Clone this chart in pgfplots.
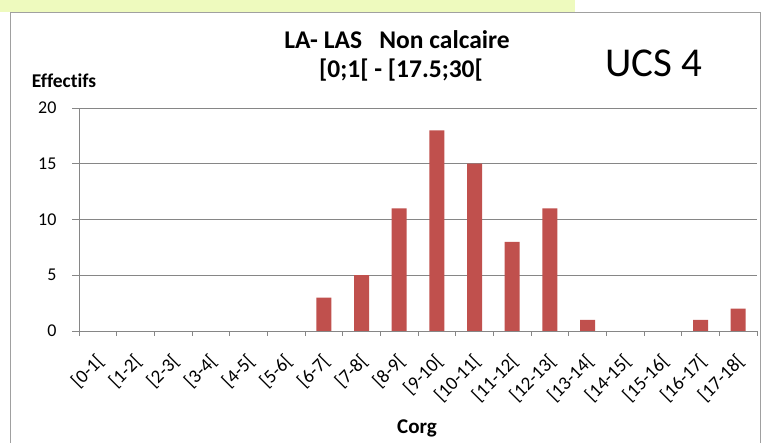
\documentclass[border=0pt]{standalone}
\usepackage{pgfplots}
\pgfplotsset{compat=1.18}
\usepackage{fontspec}
\setmainfont{Carlito}[Ligatures=NoCommon]
\definecolor{barred}{RGB}{192,80,77}
\definecolor{axgray}{RGB}{134,134,134}
\definecolor{framegray}{RGB}{160,160,160}
\definecolor{yel}{RGB}{238,250,190}
\begin{document}
\begin{tikzpicture}
\path[use as bounding box] (0pt,0pt) rectangle (767pt,443pt);
\fill[yel] (0pt,443pt) rectangle (575pt,431pt);
\draw[framegray, line width=0.8pt] (10.5pt,-2pt) -- (10.5pt,430.5pt) -- (760.5pt,430.5pt) -- (760.5pt,-2pt);
\begin{axis}[
  at={(79pt,112pt)}, anchor=south west,
  scale only axis, width=678pt, height=223pt,
  xmin=-0.5, xmax=17.5, ymin=0, ymax=20,
  axis lines*=left,
  axis line style={axgray, line width=0.8pt},
  ytick={0,5,10,15,20},
  ymajorgrids, grid style={axgray, line width=0.6pt},
  xtick={0,...,17},
  xticklabels={{[0-1[},{[1-2[},{[2-3[},{[3-4[},{[4-5[},{[5-6[},{[6-7[},{[7-8[},{[8-9[},{[9-10[},{[10-11[},{[11-12[},{[12-13[},{[13-14[},{[14-15[},{[15-16[},{[16-17[},{[17-18[}},
  minor xtick={-0.5,0.5,...,17.5},
  major x tick style={draw=none},
  minor x tick style={axgray, line width=0.8pt},
  major y tick style={axgray, line width=0.8pt},
  tick align=outside,
  major tick length=7pt, minor tick length=5pt,
  /pgf/number format/assume math mode=true,
  every y tick label/.append style={font=\fontsize{18}{18}\selectfont, anchor=east, xshift=-12pt},
  xticklabel style={font=\fontsize{19}{19}\selectfont, rotate=45, anchor=north east, yshift=-5pt, xshift=-9pt},
  clip=false,
]
\addplot[ybar, bar width=15pt, fill=barred, draw=none] coordinates {
(6,3) (7,5) (8,11) (9,18) (10,15) (11,8) (12,11) (13,1) (16,1) (17,2)};
\end{axis}
\node[font=\bfseries\fontsize{25.5}{25.5}\selectfont] at (397pt,403pt) {LA- LAS\ \ \ Non calcaire};
\node[font=\bfseries\fontsize{25.5}{25.5}\selectfont] at (401pt,373pt) {[0;1[ - [17.5;30[};
\node[font=\fontsize{41}{41}\selectfont] at (654pt,380pt) {UCS 4};
\node[font=\bfseries\fontsize{19.5}{19.5}\selectfont] at (64pt,362pt) {Effectifs};
\node[font=\bfseries\fontsize{21}{21}\selectfont] at (417pt,15pt) {Corg};
\end{tikzpicture}
\end{document}
